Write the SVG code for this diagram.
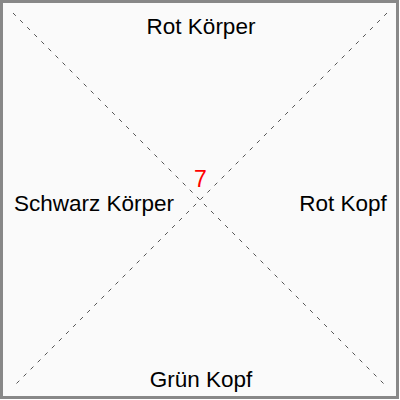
<svg xmlns="http://www.w3.org/2000/svg" width="400" height="400" viewBox="0 0 400 400">
<style>
.lbl{font-family:"Liberation Sans",Arial,sans-serif;font-size:22.5px;fill:#000;text-anchor:middle}
.num{font-family:"Liberation Sans",Arial,sans-serif;font-size:23px;fill:#ff0000;text-anchor:middle}
.diag{stroke:#555;stroke-width:1;stroke-dasharray:4 6;fill:none}
</style>
<rect x="1.5" y="1.5" width="396" height="396" fill="#fafafa" stroke="#888" stroke-width="3"/>
<g id="connectors">
<line class="diag" x1="13" y1="13" x2="385" y2="385"/>
<line class="diag" x1="387" y1="13" x2="13" y2="387"/>
</g>
<g id="top"><text class="lbl" x="201" y="34">Rot Körper</text></g>
<g id="left"><text class="lbl" x="94" y="211">Schwarz Körper</text></g>
<g id="right"><text class="lbl" x="343" y="211">Rot Kopf</text></g>
<g id="bottom"><text class="lbl" x="201" y="387">Grün Kopf</text></g>
<g id="center"><text class="num" x="200.5" y="187">7</text></g>
</svg>
